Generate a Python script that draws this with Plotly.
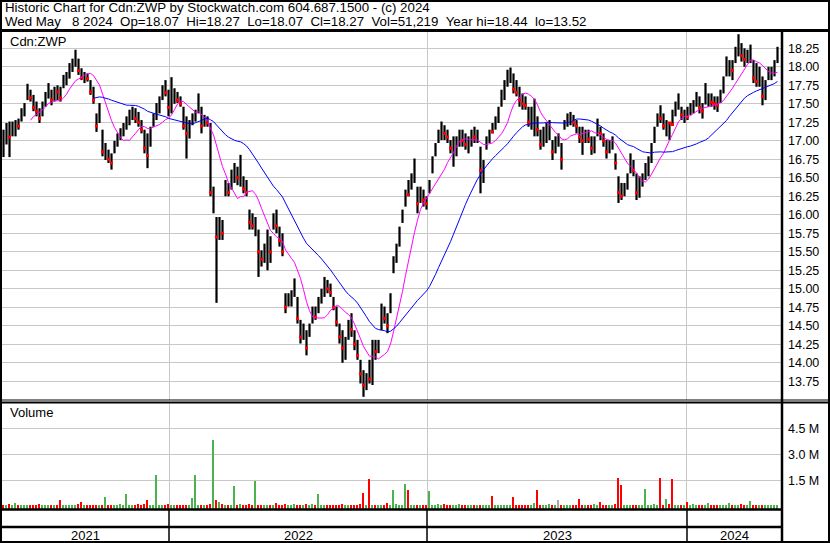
import plotly.graph_objects as go

# ---------------- data (one entry per 3-trading-day block, May 2021 .. May 8 2024) ----------------
hi = [17.15, 17.24, 17.26, 17.26, 17.28, 17.30, 17.44, 17.51, 17.77, 17.69,
      17.62, 17.53, 17.44, 17.53, 17.66, 17.78, 17.69, 17.73, 17.75, 17.73,
      17.89, 17.93, 18.05, 18.11, 18.23, 18.11, 17.98, 17.93, 17.91, 17.82,
      17.73, 17.37, 17.51, 17.15, 16.97, 16.88, 16.83, 17.00, 17.10, 17.17,
      17.24, 17.33, 17.42, 17.46, 17.44, 17.39, 17.28, 17.15, 17.10, 17.19,
      17.37, 17.51, 17.60, 17.75, 17.82, 17.69, 17.86, 17.71, 17.66, 17.60,
      17.46, 17.33, 17.28, 17.37, 17.42, 17.64, 17.46, 17.35, 17.33, 17.24,
      16.38, 15.97, 15.97, 15.93, 16.47, 16.43, 16.61, 16.70, 16.65, 16.81,
      16.52, 16.47, 16.07, 16.02, 15.97, 15.80, 15.52, 15.61, 15.80, 15.71,
      16.02, 16.07, 15.84, 15.75, 14.94, 14.94, 14.98, 15.14, 14.89, 14.58,
      14.53, 14.44, 14.53, 14.76, 14.76, 14.89, 15.00, 15.16, 15.12, 15.07,
      14.89, 14.76, 14.53, 14.44, 14.35, 14.58, 14.67, 14.44, 14.31, 14.04,
      13.90, 13.86, 14.04, 14.31, 14.31, 14.31, 14.80, 14.76, 14.67, 14.94,
      15.44, 15.61, 15.84, 16.07, 16.34, 16.47, 16.56, 16.76, 16.38, 16.38,
      16.34, 16.25, 16.47, 16.79, 16.97, 17.15, 17.26, 17.21, 17.15, 17.01,
      17.06, 17.06, 17.15, 17.15, 17.10, 17.06, 17.15, 17.19, 17.15, 16.92,
      16.74, 17.06, 17.15, 17.24, 17.33, 17.46, 17.69, 17.82, 17.96, 17.99,
      17.91, 17.82, 17.73, 17.64, 17.60, 17.46, 17.46, 17.57, 17.33, 17.15,
      17.19, 17.24, 17.28, 17.01, 17.06, 17.10, 16.97, 17.28, 17.37, 17.39,
      17.35, 17.28, 17.19, 17.19, 17.15, 17.15, 17.06, 17.06, 17.30, 17.19,
      17.10, 17.01, 17.01, 17.06, 16.83, 16.52, 16.43, 16.43, 16.56, 16.83,
      16.74, 16.56, 16.52, 16.56, 16.70, 16.79, 16.97, 17.19, 17.37, 17.48,
      17.37, 17.28, 17.24, 17.42, 17.53, 17.64, 17.46, 17.42, 17.46, 17.51,
      17.55, 17.66, 17.60, 17.51, 17.78, 17.64, 17.64, 17.60, 17.60, 17.69,
      17.87, 18.14, 18.09, 18.09, 18.27, 18.44, 18.32, 18.25, 18.23, 18.30,
      18.09, 18.05, 18.00, 17.87, 17.82, 18.00, 18.00, 18.09, 18.27]

lo = [16.78, 16.95, 16.78, 17.06, 17.06, 17.15, 17.26, 17.33, 17.55, 17.53,
      17.40, 17.33, 17.24, 17.33, 17.46, 17.57, 17.48, 17.53, 17.55, 17.53,
      17.71, 17.75, 17.84, 17.93, 18.00, 17.89, 17.82, 17.78, 17.80, 17.62,
      17.50, 17.12, 17.24, 16.79, 16.74, 16.70, 16.61, 16.83, 16.92, 17.01,
      17.06, 17.15, 17.21, 17.28, 17.24, 17.19, 17.10, 16.83, 16.63, 16.92,
      17.19, 17.28, 17.37, 17.55, 17.60, 17.33, 17.37, 17.50, 17.51, 17.46,
      17.15, 16.76, 17.03, 17.21, 17.26, 17.37, 17.10, 17.19, 17.19, 16.25,
      16.02, 14.81, 15.66, 15.66, 16.25, 16.25, 16.34, 16.43, 16.40, 16.38,
      16.29, 16.25, 15.80, 15.80, 15.71, 15.16, 15.30, 15.35, 15.25, 15.35,
      15.80, 15.75, 15.57, 15.44, 14.67, 14.76, 14.76, 14.89, 14.53, 14.26,
      14.31, 14.10, 14.35, 14.53, 14.58, 14.67, 14.80, 14.89, 14.94, 14.89,
      14.71, 14.49, 14.26, 14.00, 14.04, 14.31, 14.35, 14.17, 14.04, 13.72,
      13.54, 13.63, 13.72, 13.70, 14.04, 14.13, 14.44, 14.53, 14.40, 14.67,
      15.21, 15.35, 15.57, 15.89, 16.11, 16.25, 16.34, 16.43, 16.02, 16.16,
      16.11, 16.07, 16.29, 16.56, 16.79, 16.97, 17.01, 17.01, 16.97, 16.83,
      16.65, 16.79, 16.92, 16.92, 16.88, 16.83, 16.92, 16.97, 16.97, 16.29,
      16.43, 16.88, 16.97, 17.10, 17.15, 17.24, 17.46, 17.55, 17.73, 17.78,
      17.64, 17.60, 17.46, 17.42, 17.42, 17.19, 17.15, 17.06, 17.06, 16.88,
      16.92, 16.97, 17.01, 16.74, 16.83, 16.92, 16.61, 17.15, 17.19, 17.21,
      17.19, 17.10, 16.97, 16.81, 16.97, 16.97, 16.81, 16.83, 17.06, 17.01,
      16.92, 16.76, 16.83, 16.88, 16.61, 16.16, 16.20, 16.25, 16.34, 16.56,
      16.52, 16.20, 16.23, 16.38, 16.47, 16.52, 16.70, 16.97, 17.19, 17.24,
      17.15, 17.06, 17.01, 17.20, 17.33, 17.42, 17.28, 17.24, 17.28, 17.35,
      17.37, 17.46, 17.37, 17.30, 17.49, 17.46, 17.46, 17.42, 17.39, 17.51,
      17.64, 17.87, 17.87, 17.82, 18.05, 18.14, 18.07, 18.00, 18.05, 18.05,
      17.78, 17.73, 17.73, 17.48, 17.55, 17.82, 17.82, 17.87, 18.05]

cl = [16.95, 17.10, 17.05, 17.12, 17.22, 17.20, 17.40, 17.45, 17.70, 17.58,
      17.45, 17.40, 17.30, 17.48, 17.60, 17.70, 17.55, 17.68, 17.66, 17.58,
      17.85, 17.88, 18.00, 18.05, 18.15, 17.95, 17.85, 17.88, 17.84, 17.66,
      17.55, 17.20, 17.40, 16.85, 16.90, 16.75, 16.70, 16.95, 17.05, 17.08,
      17.15, 17.28, 17.35, 17.40, 17.30, 17.25, 17.15, 16.90, 16.80, 17.10,
      17.30, 17.45, 17.55, 17.70, 17.65, 17.45, 17.60, 17.62, 17.55, 17.50,
      17.20, 17.10, 17.15, 17.30, 17.38, 17.50, 17.20, 17.28, 17.24, 16.30,
      16.35, 15.70, 15.80, 15.75, 16.40, 16.30, 16.50, 16.60, 16.50, 16.55,
      16.35, 16.30, 15.90, 15.85, 15.92, 15.50, 15.40, 15.55, 15.60, 15.50,
      15.95, 15.85, 15.65, 15.50, 14.75, 14.85, 14.90, 15.00, 14.60, 14.35,
      14.45, 14.20, 14.45, 14.65, 14.62, 14.80, 14.92, 15.05, 15.00, 14.95,
      14.75, 14.55, 14.35, 14.20, 14.25, 14.50, 14.45, 14.25, 14.10, 13.85,
      13.70, 13.80, 13.78, 14.20, 14.15, 14.25, 14.70, 14.60, 14.50, 14.85,
      15.35, 15.50, 15.75, 16.00, 16.30, 16.27, 16.50, 16.60, 16.15, 16.30,
      16.20, 16.15, 16.40, 16.70, 16.90, 17.10, 17.15, 17.10, 17.05, 16.90,
      16.95, 17.00, 17.05, 17.00, 16.95, 17.00, 17.10, 17.05, 17.10, 16.60,
      16.65, 17.00, 17.14, 17.12, 17.28, 17.40, 17.60, 17.75, 17.90, 17.92,
      17.70, 17.65, 17.55, 17.50, 17.48, 17.25, 17.30, 17.35, 17.15, 16.95,
      17.05, 17.10, 17.15, 16.85, 16.95, 16.95, 16.75, 17.22, 17.30, 17.32,
      17.25, 17.20, 17.05, 17.00, 17.08, 17.02, 16.90, 16.98, 17.20, 17.10,
      17.00, 16.85, 16.95, 16.98, 16.70, 16.30, 16.25, 16.38, 16.45, 16.70,
      16.60, 16.30, 16.40, 16.45, 16.60, 16.70, 16.90, 17.10, 17.35, 17.30,
      17.20, 17.25, 17.24, 17.22, 17.45, 17.55, 17.35, 17.38, 17.32, 17.45,
      17.50, 17.55, 17.45, 17.40, 17.55, 17.58, 17.52, 17.50, 17.48, 17.62,
      17.80, 18.05, 18.06, 17.95, 18.20, 18.25, 18.15, 18.10, 18.12, 18.20,
      17.85, 17.80, 17.90, 17.60, 17.75, 17.90, 17.95, 18.05, 18.27]

vol_k = [80, 60, 120, 70, 190, 90, 60, 100, 70, 50,
         90, 60, 110, 80, 70, 50, 100, 60, 80, 370,
         70, 60, 90, 50, 80, 110, 250, 70, 60, 90,
         80, 60, 100, 70, 540, 90, 60, 80, 70, 120,
         60, 720, 90, 70, 60, 110, 80, 140, 370, 90,
         70, 1820, 80, 60, 100, 120, 90, 70, 60, 80,
         100, 60, 70, 480, 1820, 90, 80, 60, 70, 150,
         3850, 370, 230, 120, 90, 80, 70, 1180, 90, 110,
         70, 60, 160, 80, 1470, 70, 90, 60, 80, 70,
         60, 200, 80, 90, 110, 70, 100, 160, 60, 80,
         90, 120, 70, 150, 60, 720, 80, 70, 60, 90,
         70, 80, 60, 110, 90, 70, 60, 80, 100, 140,
         770, 90, 1590, 80, 70, 60, 90, 70, 180, 80,
         950, 110, 70, 90, 1300, 950, 80, 60, 100, 70,
         60, 90, 890, 70, 80, 110, 60, 150, 70, 80,
         90, 60, 110, 70, 80, 60, 70, 90, 80, 100,
         70, 60, 90, 600, 70, 80, 60, 90, 70, 80,
         540, 80, 60, 70, 90, 60, 80, 200, 950, 100,
         70, 80, 110, 90, 70, 370, 60, 80, 90, 70,
         60, 80, 430, 70, 90, 60, 80, 150, 70, 250,
         80, 60, 90, 70, 110, 1640, 1240, 80, 60, 90,
         70, 80, 60, 90, 1000, 80, 70, 110, 90, 1640,
         80, 430, 110, 1590, 70, 90, 80, 60, 250, 90,
         140, 70, 60, 90, 80, 190, 70, 60, 90, 80,
         70, 60, 190, 80, 90, 60, 110, 70, 80, 310,
         90, 70, 60, 80, 100, 70, 90, 60, 80]

years = ["2021", "2022", "2023", "2024"]
year_starts = [55.17, 141.17, 227.83]          # block index at which 2022, 2023, 2024 begin
price_ticks = [13.75, 14.00, 14.25, 14.50, 14.75, 15.00, 15.25, 15.50, 15.75,
               16.00, 16.25, 16.50, 16.75, 17.00, 17.25, 17.50, 17.75, 18.00, 18.25]
vol_ticks = [1.5, 3.0, 4.5]
vol_tick_text = ["1.5 M", "3.0 M", "4.5 M"]
title_line1 = "Historic Chart for Cdn:ZWP by Stockwatch.com 604.687.1500 - (c) 2024"
title_line2 = "Wed May   8 2024  Op=18.07  Hi=18.27  Lo=18.07  Cl=18.27  Vol=51,219  Year hi=18.44  lo=13.52"
symbol = "Cdn:ZWP"
ma_short, ma_long = 10, 31   # moving-average windows in blocks

assert len(hi) == len(lo) == len(cl) == len(vol_k)
n = len(cl)
idx = list(range(n))

# ---------------- derived series ----------------
def sma(vals, w):
    out = [None] * len(vals)
    for i in range(w - 1, len(vals)):
        out[i] = sum(vals[i - w + 1:i + 1]) / w
    return out

ma_s = sma(cl, ma_short)
ma_l = sma(cl, ma_long)

bx, by = [], []
for i in idx:
    bx += [i, i, None]
    by += [lo[i], hi[i], None]

dx, dy = [], []
vcol = []
for i in idx:
    prev = cl[i - 1] if i > 0 else cl[i]
    if cl[i] < prev:
        dx.append(i); dy.append(cl[i])
        vcol.append("#ff0000")
    elif cl[i] > prev:
        vcol.append("#4cb14f")
    else:
        vcol.append("#a8a8a8")
vcol[0] = "#ff0000"

W, H = 830, 543
FONT = "Liberation Sans, Arial, sans-serif"
X0, X1 = -0.5, 259.5
PX_L, PX_R = 2, 782

def fx(px):
    return px / W

def fy(py):
    return 1 - py / H

def idx_to_px(v):
    return PX_L + (v - X0) / (X1 - X0) * (PX_R - PX_L)

VOL_MIN = -0.156
fig = go.Figure()

fig.add_trace(go.Scatter(x=bx, y=by, mode="lines", line=dict(color="black", width=2.2),
                         hoverinfo="skip", xaxis="x", yaxis="y"))
fig.add_trace(go.Scatter(x=dx, y=dy, mode="markers",
                         marker=dict(color="#ff0000", size=3, symbol="square", line=dict(width=0)),
                         hoverinfo="skip", xaxis="x", yaxis="y"))
fig.add_trace(go.Scatter(x=idx, y=ma_s, mode="lines", line=dict(color="#ff00ff", width=1),
                         connectgaps=False, hoverinfo="skip", xaxis="x", yaxis="y"))
fig.add_trace(go.Scatter(x=idx, y=ma_l, mode="lines", line=dict(color="#0000ff", width=1),
                         connectgaps=False, hoverinfo="skip", xaxis="x", yaxis="y"))
fig.add_trace(go.Bar(x=idx, y=[v / 1000 - VOL_MIN for v in vol_k], base=VOL_MIN,
                     marker=dict(color=vcol, line=dict(width=0)), width=0.6,
                     hoverinfo="skip", xaxis="x2", yaxis="y2"))

grid = "#c8c8c8"
fig.update_layout(
    width=W, height=H, margin=dict(l=0, r=0, t=0, b=0),
    paper_bgcolor="white", plot_bgcolor="white", showlegend=False, bargap=0,
    font=dict(family=FONT, size=13, color="black"),
    xaxis=dict(domain=[fx(PX_L), fx(PX_R)], range=[X0, X1], anchor="y",
               tickvals=year_starts, showticklabels=False, ticks="",
               showgrid=True, gridcolor=grid, gridwidth=1, zeroline=False, showline=False),
    xaxis2=dict(domain=[fx(PX_L), fx(PX_R)], range=[X0, X1], anchor="y2",
                tickvals=year_starts, showticklabels=False, ticks="",
                showgrid=True, gridcolor=grid, gridwidth=1, zeroline=False, showline=False),
    yaxis=dict(domain=[fy(400), fy(32)], range=[13.497, 18.470], side="right", anchor="x",
               tickvals=price_ticks, ticktext=["%.2f" % t for t in price_ticks],
               ticks="", ticklabelstandoff=5, tickfont=dict(size=12.5, family=FONT, color="black"),
               showgrid=True, gridcolor=grid, gridwidth=1, zeroline=False, showline=False),
    yaxis2=dict(domain=[fy(509), fy(403)], range=[VOL_MIN, 5.96], side="right", anchor="x2",
                tickvals=vol_ticks, ticktext=vol_tick_text,
                ticks="", ticklabelstandoff=5, tickfont=dict(size=12.5, family=FONT, color="black"),
                showgrid=True, gridcolor=grid, gridwidth=1, zeroline=False, showline=False),
)

shapes = []
def hline(py, x0, x1, w=2):
    shapes.append(dict(type="line", xref="paper", yref="paper", x0=fx(x0), x1=fx(x1),
                       y0=fy(py), y1=fy(py), line=dict(color="black", width=w)))

def vline(px, y0, y1, w=2):
    shapes.append(dict(type="line", xref="paper", yref="paper", x0=fx(px), x1=fx(px),
                       y0=fy(y0), y1=fy(y1), line=dict(color="black", width=w)))

hline(1, 0, W, 2)            # top border
hline(542, 0, W, 2)          # bottom border
vline(1, 0, H, 2)            # left border
vline(829, 0, H, 2)          # right border
hline(30.5, 0, W, 3)         # under title
hline(400, 0, W, 1)          # price panel bottom
hline(402.5, 0, W, 2)        # volume panel top
hline(509.5, 0, PX_R, 2.5)   # volume panel bottom
hline(527, 0, PX_R, 2.5)     # year strip line
vline(782, 30, H, 2.5)       # axis separator
for ys in year_starts:
    vline(idx_to_px(ys), 509, 542, 1.5)
fig.update_layout(shapes=shapes)

ann = []
def txt(s, px, py, xanchor="left", size=13):
    ann.append(dict(text=s.replace("  ", " \u00a0"), x=fx(px), y=fy(py), xref="paper", yref="paper",
                    xanchor=xanchor, yanchor="middle", showarrow=False,
                    font=dict(family=FONT, size=size, color="black")))

txt(title_line1, 3, 8, size=13.3)
txt(title_line2, 3, 21, size=13.3)
txt(symbol, 8, 41)
txt("Volume", 8, 413)
bounds = [X0] + year_starts + [X1]
for k, y in enumerate(years):
    mid = (bounds[k] + bounds[k + 1]) / 2
    txt(y, idx_to_px(mid), 535, xanchor="center")
fig.update_layout(annotations=ann)

fig.write_html("out.html", config={"displayModeBar": False})

# remove the browser's default page margin so the figure sits at the window's top-left corner
with open("out.html", "r", encoding="utf-8") as f:
    page = f.read()
page = page.replace("<head>", "<head><style>html,body{margin:0;padding:0;overflow:hidden;}</style>", 1)
with open("out.html", "w", encoding="utf-8") as f:
    f.write(page)
